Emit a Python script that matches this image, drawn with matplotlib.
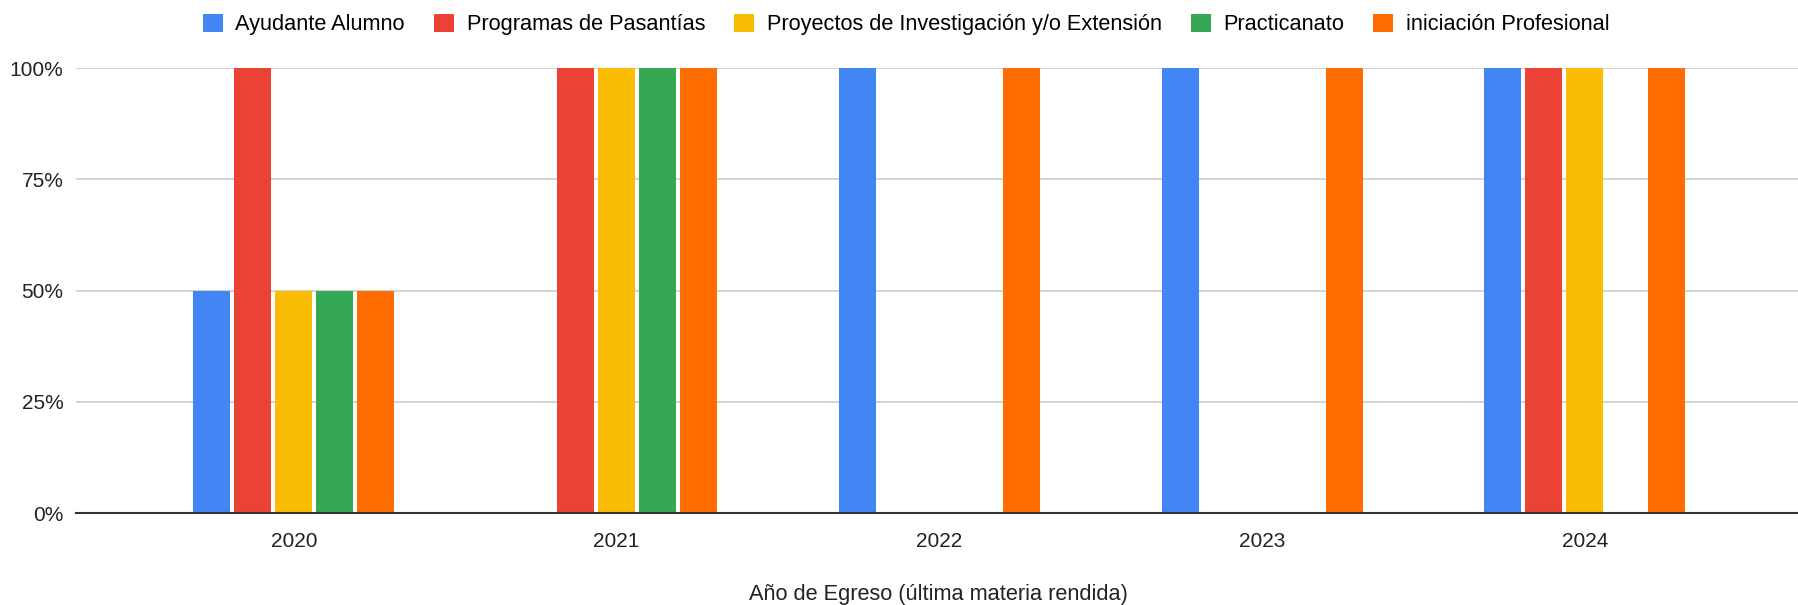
import numpy as np
import matplotlib.pyplot as plt
from matplotlib.ticker import PercentFormatter

plt.rcParams['font.family'] = ['Liberation Sans', 'DejaVu Sans']

years = ["2020", "2021", "2022", "2023", "2024"]
series = ["Ayudante Alumno", "Programas de Pasantías",
          "Proyectos de Investigación y/o Extensión", "Practicanato",
          "iniciación Profesional"]
ayudante = [50, 0, 100, 100, 100]
pasantias = [100, 100, 0, 0, 100]
proyectos = [50, 100, 0, 0, 100]
practicanato = [50, 100, 0, 0, 0]
iniciacion = [50, 100, 100, 100, 100]
values = [ayudante, pasantias, proyectos, practicanato, iniciacion]
colors = ["#4285F4", "#EA4335", "#FBBC04", "#34A853", "#FF6D01"]

fig = plt.figure(figsize=(17.98, 6.05), dpi=100)
ax = fig.add_axes([0.0423, 0.152, 0.9577, 0.7355])

x = np.arange(len(years))
step = 0.127
width = 0.1146
for i, (name, vals, c) in enumerate(zip(series, values, colors)):
    ax.bar(x + (i - 2) * step, vals, width, color=c, label=name, zorder=3)

ax.set_xlim(-0.675, 4.66)
ax.set_ylim(0, 100)
ax.set_yticks([0, 25, 50, 75, 100])
ax.yaxis.set_major_formatter(PercentFormatter(decimals=0))
ax.set_xticks(x)
ax.set_xticklabels(years)
ax.tick_params(axis='both', length=0, labelsize=15, colors="#222222")
ax.tick_params(axis='x', pad=14)
ax.tick_params(axis='y', pad=9)
ax.grid(axis='y', color="#cccccc", linewidth=1.2, zorder=0)
for s in ["top", "right", "left"]:
    ax.spines[s].set_visible(False)
ax.spines["bottom"].set_color("#333333")
ax.spines["bottom"].set_linewidth(1.5)
ax.spines["bottom"].set_zorder(4)

fig.text(0.5217, 0.017, "Año de Egreso (última materia rendida)", ha="center",
         va="center", fontsize=15.7, color="#222222")

fig.legend(loc="upper center", bbox_to_anchor=(0.504, 1.01), ncol=5,
           frameon=False, fontsize=15.7, handlelength=0.92, handleheight=0.92,
           handletextpad=0.58, columnspacing=1.33)

fig.savefig("out.png", dpi=100)
